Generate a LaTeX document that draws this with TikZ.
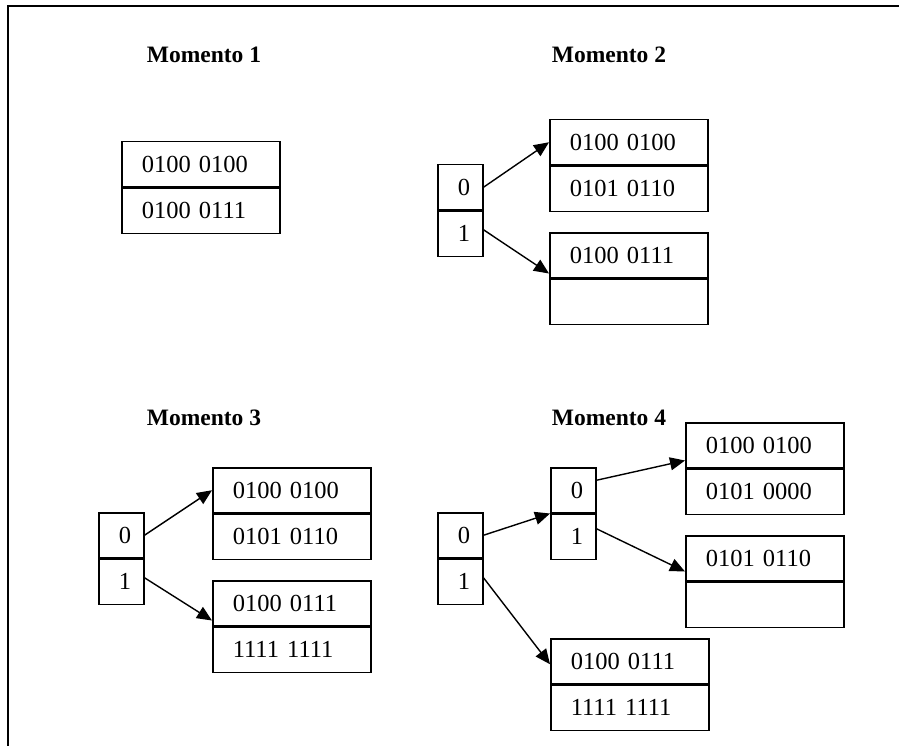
\documentclass[tikz,border=0pt]{standalone}
\usepackage{fontspec}
\setmainfont{Liberation Serif}
\usetikzlibrary{arrows.meta}
\begin{document}
\begin{tikzpicture}[x=1pt,y=-1pt,
  cell/.style={draw, line width=1.5pt, inner xsep=0pt, inner ysep=0pt,
    text width=#1, minimum height=45pt, align=left,
    font=\fontsize{24.5}{28}\selectfont,
    execute at begin node={\hspace*{20pt}}},
  cell/.default=158pt,
  idx/.style={cell=45pt},
  title/.style={font=\fontsize{23.5}{28}\selectfont\bfseries},
  link/.style={line width=1.4pt, -{Triangle[length=15pt,width=13pt]}}]
\useasboundingbox (0,0) rectangle (899,746);
% open frame: top and left edges only
\draw[line width=1.8pt] (899,6) -- (8,6) -- (8,746);

% titles
\node[title] (t1) at (204,55) {Momento 1};
\node[title] (t2) at (609,55) {Momento 2};
\node[title] (t3) at (204,418) {Momento 3};
\node[title] (t4) at (609,418) {Momento 4};

% Momento 1
\node[cell, anchor=north west] (m1a0) at (121,141) {0100 0100};
\node[cell, anchor=north] (m1a1) at (m1a0.south) {0100 0111};

% Momento 2
\node[idx, anchor=north west] (m2i0) at (437,164) {0};
\node[idx, anchor=north] (m2i1) at (m2i0.south) {1};
\node[cell, anchor=north west] (m2a0) at (549,119) {0100 0100};
\node[cell, anchor=north] (m2a1) at (m2a0.south) {0101 0110};
\node[cell, anchor=north west] (m2b0) at (549,232) {0100 0111};
\node[cell, anchor=north] (m2b1) at (m2b0.south) {};
\draw[link] (m2i0.east) -- (m2a0.west);
\draw[link] ([yshift=4pt]m2i1.east) -- ([yshift=5pt]m2b0.south west);

% Momento 3
\node[idx, anchor=north west] (m3i0) at (98,512) {0};
\node[idx, anchor=north] (m3i1) at (m3i0.south) {1};
\node[cell, anchor=north west] (m3a0) at (212,467) {0100 0100};
\node[cell, anchor=north] (m3a1) at (m3a0.south) {0101 0110};
\node[cell, anchor=north west] (m3b0) at (212,580) {0100 0111};
\node[cell, anchor=north] (m3b1) at (m3b0.south) {1111 1111};
\draw[link] (m3i0.east) -- (m3a0.west);
\draw[link] ([yshift=4pt]m3i1.east) -- ([yshift=6pt]m3b0.south west);

% Momento 4
\node[idx, anchor=north west] (m4i0) at (437,512) {0};
\node[idx, anchor=north] (m4i1) at (m4i0.south) {1};
\node[idx, anchor=north west] (m4j0) at (550,467) {0};
\node[idx, anchor=north] (m4j1) at (m4j0.south) {1};
\node[cell, anchor=north west] (m4a0) at (685,422) {0100 0100};
\node[cell, anchor=north] (m4a1) at (m4a0.south) {0101 0000};
\node[cell, anchor=north west] (m4b0) at (685,535) {0101 0110};
\node[cell, anchor=north] (m4b1) at (m4b0.south) {};
\node[cell, anchor=north west] (m4c0) at (550,638) {0100 0111};
\node[cell, anchor=north] (m4c1) at (m4c0.south) {1111 1111};
\draw[link] (m4i0.east) -- (m4j0.south west);
\draw[link] ([yshift=10pt]m4j0.east) -- ([yshift=8pt]m4a0.south west);
\draw[link] ([yshift=8pt]m4j1.east) -- ([yshift=10pt]m4b0.south west);
\draw[link] ([yshift=4pt]m4i1.east) -- ([yshift=-3pt]m4c0.west);
\end{tikzpicture}
\end{document}
